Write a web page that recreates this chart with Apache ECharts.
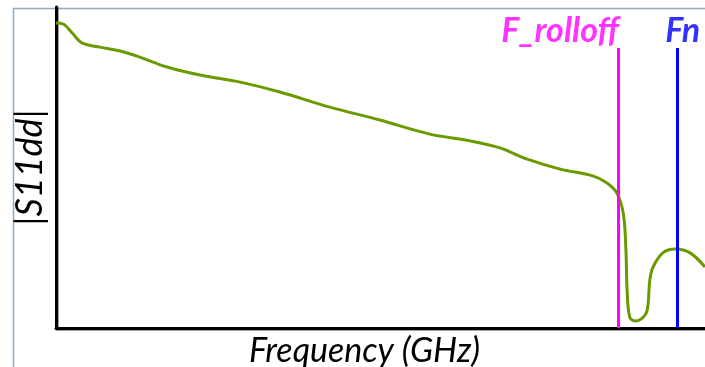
<!DOCTYPE html>
<html>
	<head>
		<meta charset="utf-8" />
		<title></title>
		<script type="text/javascript" src="https://cdn.jsdelivr.net/npm/echarts@6/dist/echarts.min.js"></script>
	</head>
	<body style="margin:0;">
	    <div id="main" style="width:705px; height: 367px;"></div>
		<script>
			// frequency (arbitrary units, 0..100) and |S11dd| (arbitrary units, 0..100)
			var freq = [0, 1.1, 2.5, 4.0, 6.8, 9.9, 12.9, 17.1, 22.2, 28.4, 34.5, 42.2, 49.9, 57.6, 63.8, 68.4, 72.6, 77.7, 82.7, 84.9, 86.4, 87.4, 87.8, 88.0, 88.4, 89.2, 90.3, 91.1, 91.5, 92.0, 93.5, 95.4, 97.7, 100];
			var s11 = [95.0, 94.7, 91.9, 88.8, 87.5, 86.3, 84.4, 81.3, 78.8, 76.6, 73.5, 68.8, 64.8, 60.4, 58.3, 56.1, 52.6, 49.5, 47.4, 45.2, 42.1, 35.8, 25.2, 11.8, 3.4, 2.2, 3.0, 5.6, 15.0, 19.0, 23.4, 24.6, 23.4, 19.0];

			var markerNames = ['F_rolloff', 'Fn'];
			var markerFreqs = [86.6, 95.8];
			var markerColors = ['#FF00FF', '#0000FF'];
			var markerTop = 87.2;

			var chartDom = document.getElementById('main');
			var myChart = echarts.init(chartDom);

			var curve = [];
			for (var i = 0; i < freq.length; i++) {
				curve.push([freq[i], s11[i]]);
			}

			var lineData = [];
			var labelData = [];
			for (var k = 0; k < markerNames.length; k++) {
				lineData.push([
					{ coord: [markerFreqs[k], 0], lineStyle: { color: markerColors[k] } },
					{ coord: [markerFreqs[k], markerTop] }
				]);
				labelData.push({
					value: [markerFreqs[k], markerTop],
					label: {
						color: markerColors[k],
						align: k == 0 ? 'right' : 'center',
						offset: k == 0 ? [1, 0] : [5, 0]
					}
				});
			}

			var axisLineStyle = { color: '#000', width: 3, shadowColor: 'rgba(0,0,0,0.35)', shadowOffsetY: 1, shadowOffsetX: 1 };
			var fontFam = 'Lato, "Open Sans", sans-serif';

			var opt = {
				animation: false,
				grid: { left: 56, right: 0, top: 7, bottom: 39, outerBoundsMode: 'none' },
				graphic: [{
					type: 'rect',
					z: -10,
					shape: { x: 13.5, y: 8.5, width: 720, height: 400 },
					style: { fill: 'none', stroke: '#8FAAC0', lineWidth: 1.5 }
				}],
				xAxis: {
					type: 'value', min: 0, max: 100,
					name: 'Frequency (GHz)', nameLocation: 'middle', nameGap: 6,
					nameTextStyle: { fontFamily: fontFam, fontStyle: 'italic', fontSize: 34, color: '#000', verticalAlign: 'top', padding: [0, 32, 0, 0] },
					axisLine: { show: true, lineStyle: axisLineStyle },
					axisTick: { show: false }, axisLabel: { show: false }, splitLine: { show: false }
				},
				yAxis: {
					type: 'value', min: 0, max: 100,
					name: '|S11dd|', nameLocation: 'middle', nameGap: 8,
					nameTextStyle: { fontFamily: fontFam, fontStyle: 'italic', fontSize: 36, color: '#000' },
					axisLine: { show: true, lineStyle: axisLineStyle },
					axisTick: { show: false }, axisLabel: { show: false }, splitLine: { show: false }
				},
				series: [
					{
						type: 'line',
						data: curve,
						smooth: 0.35,
						showSymbol: false,
						lineStyle: { color: '#6A9A00', width: 3 },
						z: 3,
						markLine: {
							silent: true,
							symbol: ['none', 'none'],
							label: { show: false },
							lineStyle: { type: 'solid', width: 3 },
							data: lineData
						}
					},
					{
						type: 'scatter',
						symbolSize: 0,
						data: labelData,
						z: 4,
						label: {
							show: true,
							position: 'top',
							distance: 0,
							fontFamily: fontFam,
							fontStyle: 'italic',
							fontWeight: 'bold',
							fontSize: 34,
							formatter: function (p) { return markerNames[p.dataIndex]; }
						}
					}
				]
			};
			myChart.setOption(opt);
		</script>
	</body>
</html>
